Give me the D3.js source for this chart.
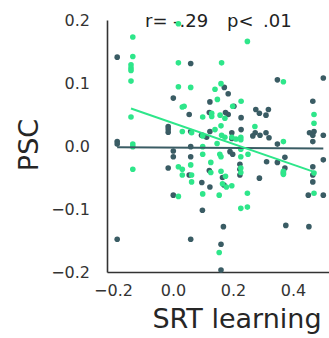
<!DOCTYPE html>
<html>
<head>
<meta charset="utf-8">
<script src="https://cdn.jsdelivr.net/npm/d3@7"></script>
<style>
  body { margin: 0; background: #fff; }
  svg { display: block; font-family: "DejaVu Sans", sans-serif; }
</style>
</head>
<body>
<svg width="329" height="338"></svg>
<script>
// group 1 (dark) : [SRT learning, PSC]
var darkX = [-0.186, -0.186, -0.186, -0.186, 0.001, -0.016, -0.016, -0.016, -0.016, 0.001,
  0.001, 0.001, 0.059, 0.171, 0.184, 0.123, 0.203, 0.054, 0.121, 0.175,
  0.184, 0.227, 0.059, 0.099, 0.123, 0.196, 0.227, 0.112, 0.196, 0.266,
  0.276, 0.318, 0.288, 0.31, 0.348, 0.501, 0.466, 0.274, 0.29, 0.31,
  0.32, 0.348, 0.455, 0.47, 0.466, 0.466, 0.501, 0.059, 0.059, 0.19,
  0.199, 0.312, 0.348, 0.373, 0.466, 0.501, 0.054, 0.121, 0.096, 0.123,
  0.165, 0.17, 0.223, 0.223, 0.223, 0.288, 0.373, 0.368, 0.466, 0.466,
  0.451, 0.501, 0.098, 0.168, 0.059, 0.16, 0.16, 0.376, 0.453, 0.095];
var darkY = [0.141, 0.007, 0.003, -0.148, 0.076, 0.031, 0.027, 0.022, -0.035, -0.008,
  -0.017, -0.078, 0.131, 0.093, 0.083, 0.070, 0.063, 0.050, 0.053, 0.053,
  0.050, 0.045, 0.023, 0.017, 0.023, 0.021, 0.026, 0.014, 0.012, 0.016,
  0.058, 0.058, 0.052, 0.049, 0.105, 0.108, 0.071, 0.021, 0.017, 0.021,
  0.013, 0.003, 0.021, 0.023, 0.017, 0.007, 0.017, -0.001, -0.017, -0.009,
  -0.013, -0.025, -0.026, -0.018, -0.033, -0.022, -0.046, -0.039, -0.058, -0.065,
  -0.050, -0.062, -0.029, -0.037, -0.046, -0.051, -0.035, -0.043, -0.046, -0.057,
  -0.078, -0.078, -0.102, -0.128, -0.148, -0.156, -0.197, -0.126, -0.128, 0.017];

// group 2 (green)
var greenX = [-0.134, -0.134, -0.14, -0.14, -0.14, -0.14, -0.14, -0.134, -0.134, -0.134,
  0.018, 0.018, 0.018, 0.031, 0.031, 0.031, 0.031, 0.018, 0.248, 0.162,
  0.368, 0.059, 0.14, 0.16, 0.148, 0.227, 0.037, 0.199, 0.099, 0.129,
  0.129, 0.157, 0.173, 0.47, 0.47, 0.099, 0.14, 0.162, 0.173, 0.196,
  0.21, 0.226, 0.226, 0.273, 0.16, 0.062, 0.368, 0.099, 0.099, 0.147,
  0.156, 0.16, 0.226, 0.226, 0.25, 0.018, 0.059, 0.062, 0.062, 0.126,
  0.126, 0.16, 0.175, 0.165, 0.178, 0.196, 0.099, 0.154, 0.248, 0.226,
  0.248, 0.154, 0.368, 0.368, 0.47, 0.47, 0.226, 0.226];
var greenY = [0.173, 0.142, 0.129, 0.124, 0.120, 0.103, 0.046, 0.003, -0.001, -0.037,
  0.194, 0.132, 0.094, 0.062, 0.023, -0.037, -0.046, -0.080, 0.166, 0.132,
  0.102, 0.093, 0.090, 0.099, 0.074, 0.071, 0.063, 0.063, 0.046, 0.047,
  0.052, 0.049, 0.044, 0.050, 0.036, 0.016, 0.026, 0.017, 0.014, 0.014,
  0.011, 0.014, 0.010, 0.031, 0.032, 0.021, 0.007, -0.001, -0.013, 0.004,
  -0.013, -0.017, -0.005, -0.017, -0.013, -0.033, -0.030, -0.046, -0.057, -0.026,
  -0.042, -0.040, -0.048, -0.060, -0.065, -0.063, -0.076, -0.078, -0.075, -0.099,
  -0.097, -0.169, -0.040, -0.045, -0.043, -0.075, -0.035, -0.042];

// regression fits [dark, green]
var fitSlope = [-0.003, -0.165];
var fitIntercept = [-0.0025, 0.0364];

var xTicks = [-0.2, 0.0, 0.2, 0.4];
var yTicks = [-0.2, -0.1, 0.0, 0.1, 0.2];

var darkCol = '#3a5c64', greenCol = '#2ee68a', axisCol = '#333333';

var svg = d3.select('svg');
var x = d3.scaleLinear().domain([-0.22, 0.52]).range([107, 329]);
var y = d3.scaleLinear().domain([-0.2, 0.2]).range([272, 20]);

// axes (no tick marks, only labels and left/bottom spines)
var xAxis = svg.append('g')
    .attr('transform', 'translate(0,272)')
    .call(d3.axisBottom(x).tickValues(xTicks).tickSize(0).tickPadding(13)
      .tickFormat(function(d) { return d3.format('.1f')(d).replace('-', '\u2212'); }));
var yAxis = svg.append('g')
    .attr('transform', 'translate(107,0)')
    .call(d3.axisLeft(y).tickValues(yTicks).tickSize(0).tickPadding(17)
      .tickFormat(function(d) { return d3.format('.1f')(d).replace('-', '\u2212'); }));
[xAxis, yAxis].forEach(function(a) {
  a.select('.domain').attr('stroke', axisCol).attr('stroke-width', 1.6);
  a.selectAll('text').attr('font-size', 16).attr('fill', '#333')
    .attr('font-family', '"DejaVu Sans", sans-serif');
});

// title text
var title = svg.append('text').attr('y', 27).attr('font-size', 18).attr('fill', '#222');
title.append('tspan').attr('x', 145).text('r=');
title.append('tspan').attr('x', 173).text('-.29');
title.append('tspan').attr('x', 227).text('p<');
title.append('tspan').attr('x', 263).text('.01');

// axis labels
svg.append('text')
    .attr('transform', 'translate(38,145) rotate(-90)')
    .attr('text-anchor', 'middle')
    .attr('font-size', 27).attr('fill', '#262626')
    .text('PSC');
svg.append('text')
    .attr('x', 237).attr('y', 328)
    .attr('text-anchor', 'middle')
    .attr('font-size', 27).attr('fill', '#262626')
    .text('SRT learning');

var groups = [
  { xs: darkX, ys: darkY, col: darkCol },
  { xs: greenX, ys: greenY, col: greenCol }
];

groups.forEach(function(g, i) {
  svg.append('g').selectAll('circle')
    .data(d3.zip(g.xs, g.ys))
    .enter().append('circle')
    .attr('cx', function(d) { return x(d[0]); })
    .attr('cy', function(d) { return y(d[1]); })
    .attr('r', 2.8)
    .attr('fill', g.col);
});

groups.forEach(function(g, i) {
  var ext = d3.extent(g.xs);
  var line = d3.line()
      .x(function(d) { return x(d); })
      .y(function(d) { return y(fitIntercept[i] + fitSlope[i] * d); });
  svg.append('path')
    .attr('d', line(ext))
    .attr('stroke', g.col)
    .attr('stroke-width', 2)
    .attr('fill', 'none');
});
</script>
</body>
</html>
